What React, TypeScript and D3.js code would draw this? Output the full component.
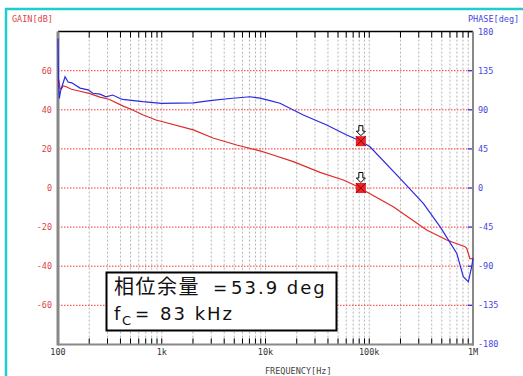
import React from "react";
import * as d3 from "d3";

// Gain curve (Hz, dB)
const gainFreq = [100, 102, 104.5, 108, 112, 120, 135, 163, 200, 254, 310, 420, 525, 655, 880, 1000, 2014, 3119, 5278, 8851, 11050, 18540, 33530, 56230, 83000, 87620, 170500, 357900, 557800, 837300, 870000, 935700, 970000, 1000000];
const gainDb = [55.5, 55, 51, 50.8, 52.2, 51.8, 50.5, 49.5, 48.4, 46.5, 45.4, 42, 39.9, 37.5, 34.8, 34, 29.7, 25.6, 22, 19, 17.4, 13.5, 8, 4.1, 0, -1, -9.6, -21.5, -26.6, -30, -30.8, -36.3, -36.2, -35.8];

// Phase curve (Hz, deg)
const phaseFreq = [100, 100.5, 101, 103, 106, 110, 117, 125, 136, 163, 195, 217, 254, 290, 337, 396, 420, 655, 1000, 2014, 2918, 4548, 7090, 8851, 11050, 13800, 23140, 38900, 60640, 83000, 101700, 197900, 331900, 480800, 696500, 806400, 901000, 971700, 1000000];
const phaseDeg = [172, 150, 125, 103, 112, 118, 128, 122, 121, 115, 113, 109, 108, 105, 107, 103, 102, 99.3, 97.5, 98, 100.5, 103, 105, 103.5, 100.5, 97.5, 84, 72.5, 61, 53.9, 47.5, 11, -17.6, -44.5, -75, -102, -108, -90.6, -80.6];

const gainTicks = [-60, -40, -20, 0, 20, 40, 60];
const phaseTicks = [-180, -135, -90, -45, 0, 45, 90, 135, 180];
const freqLabels = [
  { f: 100, t: "100" },
  { f: 1000, t: "1k" },
  { f: 10000, t: "10k" },
  { f: 100000, t: "100k" },
  { f: 1000000, t: "1M" },
];

const crossFreq = 83000;
const crossGain = 0;
const crossPhase = 53.9;

const marginText1 = "相位余量";
const marginValue = "53.9 deg";
const fcValue = "83 kHz";

export default function App() {
  const L = 58, R = 473, T = 31.6, B = 344.4;
  const x = d3.scaleLog().domain([100, 1e6]).range([L, R]);
  const yG = d3.scaleLinear().domain([-80, 80]).range([B, T]);
  const yP = d3.scaleLinear().domain([-180, 180]).range([B, T]);

  const minor: number[] = [];
  for (let e = 2; e <= 5; e++) {
    for (let m = 1; m <= 9; m++) {
      if (e === 2 && m === 1) continue;
      minor.push(m * Math.pow(10, e));
    }
  }

  const gainLine = d3.line<number>().x((_, i) => x(gainFreq[i])).y((d) => yG(d))(gainDb) || "";
  const phaseLine = d3.line<number>().x((_, i) => x(phaseFreq[i])).y((d) => yP(d))(phaseDeg) || "";

  const mono = "'DejaVu Sans Mono', monospace";
  const labelFs = 8.5;

  const marker = (cx: number, cy: number, key: string) => (
    <g key={key}>
      <rect x={cx - 5} y={cy - 5} width={10} height={10} fill="#e8262a" />
      <path d={`M${cx - 5},${cy - 5}L${cx + 5},${cy + 5}M${cx + 5},${cy - 5}L${cx - 5},${cy + 5}`} stroke="#900" strokeWidth={1} />
      <path
        d={`M${cx - 2},${cy - 15.5}L${cx + 2},${cy - 15.5}L${cx + 2},${cy - 10}L${cx + 4.5},${cy - 10}L${cx},${cy - 5.5}L${cx - 4.5},${cy - 10}L${cx - 2},${cy - 10}Z`}
        fill="#fff"
        stroke="#000"
        strokeWidth={1}
      />
    </g>
  );

  const cx = x(crossFreq);

  return (
    <svg width={523} height={376} style={{ position: "absolute", left: 0, top: 0, background: "#fff" }}>
      <rect x={0} y={0} width={523} height={376} fill="#fff" />
      <line x1={6} y1={8} x2={6} y2={376} stroke="#20cccc" strokeWidth={2.5} />
      <line x1={5} y1={9} x2={523} y2={9} stroke="#20cccc" strokeWidth={2.5} />

      {/* vertical grid */}
      {minor.map((f) => (
        <line key={"v" + f} x1={x(f)} x2={x(f)} y1={T} y2={B} stroke="#b4b4b4" strokeWidth={1} strokeDasharray="2,2" />
      ))}
      {/* horizontal grid */}
      {gainTicks.map((g) => (
        <line key={"h" + g} x1={L} x2={R - 5} y1={yG(g)} y2={yG(g)} stroke="#ff3030" strokeWidth={1} strokeDasharray="1.5,1.5" />
      ))}
      {/* top ticks */}
      {minor.map((f) => (
        <line key={"tt" + f} x1={x(f)} x2={x(f)} y1={T} y2={T + 6} stroke="#000" strokeWidth={1} />
      ))}
      {/* bottom ticks */}
      {minor.map((f) => (
        <line key={"bt" + f} x1={x(f)} x2={x(f)} y1={B - 6} y2={B} stroke="#000" strokeWidth={1} />
      ))}
      {/* right blue ticks */}
      {phaseTicks.map((p) => (
        <line key={"rt" + p} x1={R - 5} x2={R} y1={yP(p)} y2={yP(p)} stroke="#2a2ae0" strokeWidth={1.3} />
      ))}

      {/* frame */}
      <line x1={L} x2={R} y1={T} y2={T} stroke="#000" strokeWidth={1.5} />
      <line x1={L} x2={L} y1={T} y2={B + 1} stroke="#888" strokeWidth={3} />
      <line x1={R} x2={R} y1={T} y2={B + 1} stroke="#888" strokeWidth={2} />
      <line x1={L} x2={R + 1} y1={B} y2={B} stroke="#888" strokeWidth={2} />

      {/* curves */}
      <path d={gainLine} fill="none" stroke="#dd2a2a" strokeWidth={1.2} />
      <path d={phaseLine} fill="none" stroke="#2a2ae0" strokeWidth={1.2} />

      {/* markers */}
      {marker(cx, yP(crossPhase), "m1")}
      {marker(cx, yG(crossGain), "m2")}

      {/* left labels */}
      {gainTicks.map((g) => (
        <text key={"gl" + g} x={52} y={yG(g) + 3} textAnchor="end" fontFamily={mono} fontSize={labelFs} fill="#e04444">
          {g}
        </text>
      ))}
      {/* right labels */}
      {phaseTicks.map((p) => (
        <text key={"pl" + p} x={478} y={yP(p) + 3} textAnchor="start" fontFamily={mono} fontSize={labelFs} fill="#4646e0">
          {p}
        </text>
      ))}
      {/* x labels */}
      {freqLabels.map((d) => (
        <text key={"xl" + d.t} x={x(d.f)} y={355} textAnchor="middle" fontFamily={mono} fontSize={labelFs} fill="#333">
          {d.t}
        </text>
      ))}
      <text x={12} y={22} fontFamily={mono} fontSize={labelFs} fill="#e04444">GAIN[dB]</text>
      <text x={468} y={22} fontFamily={mono} fontSize={labelFs} fill="#4646e0">PHASE[deg]</text>
      <text x={265} y={374} fontFamily={mono} fontSize={labelFs} fill="#444">FREQUENCY[Hz]</text>

      {/* annotation */}
      <rect x={106.5} y={272.5} width={230} height={58} fill="#fff" stroke="#000" strokeWidth={2} />
      <g fontFamily="'DejaVu Sans', 'Noto Sans CJK JP', sans-serif" fill="#111">
        <text x={114} y={294} fontSize={20} fontFamily="'Noto Sans CJK JP', sans-serif" letterSpacing={1.5}>{marginText1}</text>
        <text x={213} y={294} fontSize={17}>=</text>
        <text x={231} y={294} fontSize={18} letterSpacing={2}>{marginValue}</text>
        <text x={114} y={320} fontSize={18}>f</text>
        <text x={122} y={325} fontSize={13}>C</text>
        <text x={135} y={320} fontSize={17}>=</text>
        <text x={160} y={320} fontSize={18} letterSpacing={2}>{fcValue}</text>
      </g>
    </svg>
  );
}
